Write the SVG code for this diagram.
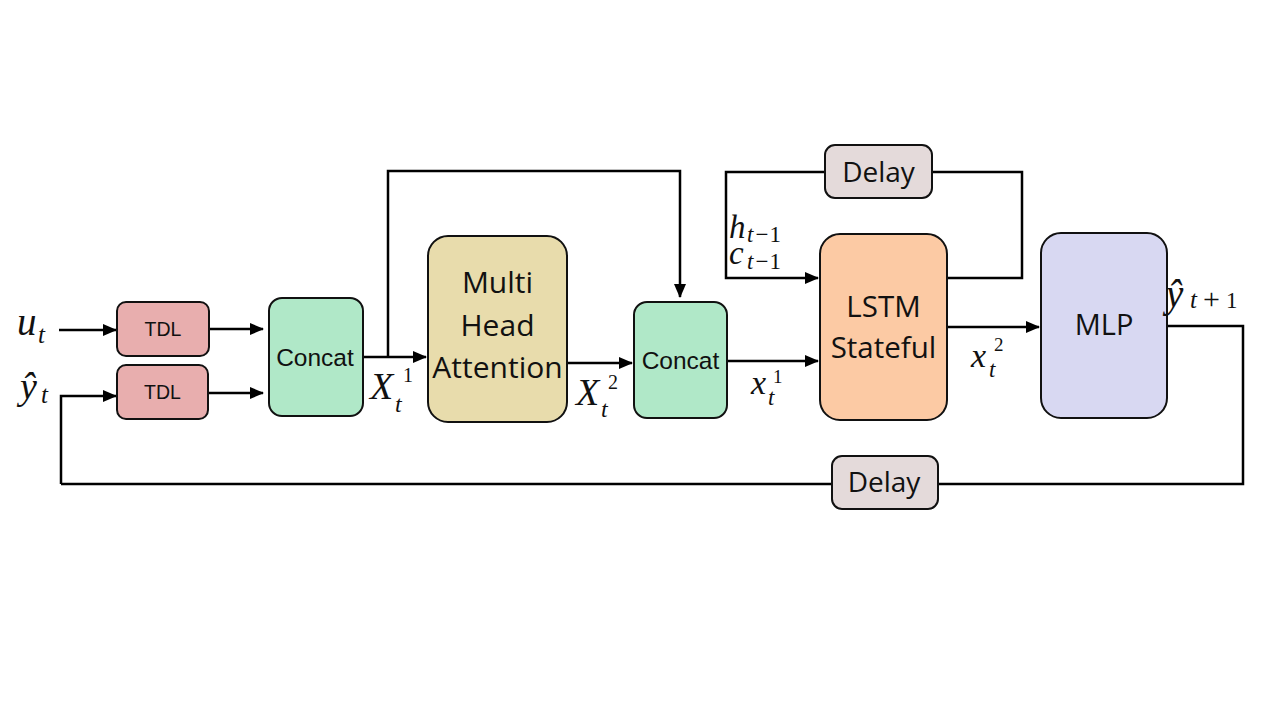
<svg xmlns="http://www.w3.org/2000/svg" width="1280" height="720" viewBox="0 0 1280 720">
<style>
.box{stroke:#111;stroke-width:2}
.ln{fill:none;stroke:#000;stroke-width:2.5}
.cal{font-family:"Open Sans","Noto Sans",sans-serif;fill:#111;text-anchor:middle}
.ari{font-family:"Liberation Sans",Arial,sans-serif;fill:#111;text-anchor:middle}
.m{font-family:"Liberation Serif","DejaVu Serif",serif;font-style:italic;fill:#111}
.s{font-style:normal}
</style>
<defs>
<marker id="ah" viewBox="0 0 14 12" refX="13" refY="6" markerWidth="14" markerHeight="12" markerUnits="userSpaceOnUse" orient="auto">
<path d="M0,0 L14,6 L0,12 Z" fill="#000"/>
</marker>
</defs>
<rect width="1280" height="720" fill="#fff"/>
<g id="connectors">
<path class="ln" d="M59,330 H116" marker-end="url(#ah)"/>
<path class="ln" d="M61,484 V396 H116" marker-end="url(#ah)"/>
<path class="ln" d="M209,329 H263" marker-end="url(#ah)"/>
<path class="ln" d="M208,393 H263" marker-end="url(#ah)"/>
<path class="ln" d="M363,357 H426" marker-end="url(#ah)"/>
<path class="ln" d="M388,357 V171 H680 V297" marker-end="url(#ah)"/>
<path class="ln" d="M567,363 H632" marker-end="url(#ah)"/>
<path class="ln" d="M727,361 H818" marker-end="url(#ah)"/>
<path class="ln" d="M947,278 H1022 V172 H932"/>
<path class="ln" d="M825,172 H726 V278 H818" marker-end="url(#ah)"/>
<path class="ln" d="M947,327 H1039" marker-end="url(#ah)"/>
<path class="ln" d="M1167,326 H1243 V484 H938"/>
<path class="ln" d="M832,484 H61"/>
</g>
<g id="tdl1"><rect class="box" x="117" y="302" width="92" height="54" rx="9" fill="#e8aeae"/><text class="ari" x="163" y="336" font-size="19.5">TDL</text></g>
<g id="tdl2"><rect class="box" x="117" y="365" width="91" height="54" rx="9" fill="#e8aeae"/><text class="ari" x="162.5" y="399" font-size="19.5">TDL</text></g>
<g id="concat1"><rect class="box" x="269" y="298" width="94" height="118" rx="13" fill="#b0e8c8"/><text class="ari" x="315" y="366" font-size="24.5">Concat</text></g>
<g id="mha"><rect class="box" x="428" y="236" width="139" height="186" rx="20" fill="#e8dcac"/>
<text class="cal" x="497.5" y="293" font-size="30">Multi</text>
<text class="cal" x="497.5" y="336" font-size="30">Head</text>
<text class="cal" x="497.5" y="378" font-size="30">Attention</text></g>
<g id="concat2"><rect class="box" x="634" y="302" width="93" height="116" rx="13" fill="#b0e8c8"/><text class="ari" x="680.5" y="369" font-size="24.5">Concat</text></g>
<g id="lstm"><rect class="box" x="820" y="234" width="127" height="186" rx="20" fill="#fccaa4"/>
<text class="cal" x="883.5" y="317" font-size="29.5">LSTM</text>
<text class="cal" x="883.5" y="358" font-size="29.5">Stateful</text></g>
<g id="mlp"><rect class="box" x="1041" y="233" width="126" height="185" rx="20" fill="#d8d8f2"/>
<text class="cal" x="1104" y="335" font-size="29">MLP</text></g>
<g id="delay-top"><rect class="box" x="825" y="145" width="107" height="53" rx="10" fill="#e4dada"/><text class="cal" x="878.5" y="182" font-size="28">Delay</text></g>
<g id="delay-bottom"><rect class="box" x="832" y="456" width="106" height="53" rx="10" fill="#e4dada"/><text class="cal" x="884" y="492" font-size="28">Delay</text></g>
<g id="labels">
<text class="m" x="17" y="335" font-size="39">u<tspan font-size="25" x="38" y="343">t</tspan></text>
<text class="m" x="20" y="399" font-size="38">ŷ<tspan font-size="25" x="41" y="403">t</tspan></text>
<text class="m" x="370" y="399" font-size="38">X<tspan font-size="24" x="395" y="412">t</tspan><tspan class="s" font-size="20" x="403" y="382">1</tspan></text>
<text class="m" x="576" y="405" font-size="38">X<tspan font-size="24" x="601" y="417">t</tspan><tspan class="s" font-size="20" x="608" y="389">2</tspan></text>
<text class="m" x="751" y="394" font-size="34">x<tspan font-size="23" x="768" y="405">t</tspan><tspan class="s" font-size="19" x="773" y="383">1</tspan></text>
<text class="m" x="971" y="367" font-size="34">x<tspan font-size="23" x="989" y="377">t</tspan><tspan class="s" font-size="19" x="994" y="351">2</tspan></text>
<text class="m" x="729" y="238" font-size="33">h<tspan font-size="23" x="747" y="242">t</tspan><tspan class="s" font-size="23" dx="2">−</tspan><tspan class="s" font-size="23" dx="1">1</tspan></text>
<text class="m" x="729" y="264" font-size="33">c<tspan font-size="23" x="747" y="269">t</tspan><tspan class="s" font-size="23" dx="2">−</tspan><tspan class="s" font-size="23" dx="1">1</tspan></text>
<text class="m" x="1166" y="307" font-size="39">ŷ<tspan font-size="25" x="1190" y="308">t</tspan><tspan class="s" font-size="30" x="1203" y="309">+</tspan><tspan class="s" font-size="23" x="1226" y="308">1</tspan></text>
</g>
</svg>
